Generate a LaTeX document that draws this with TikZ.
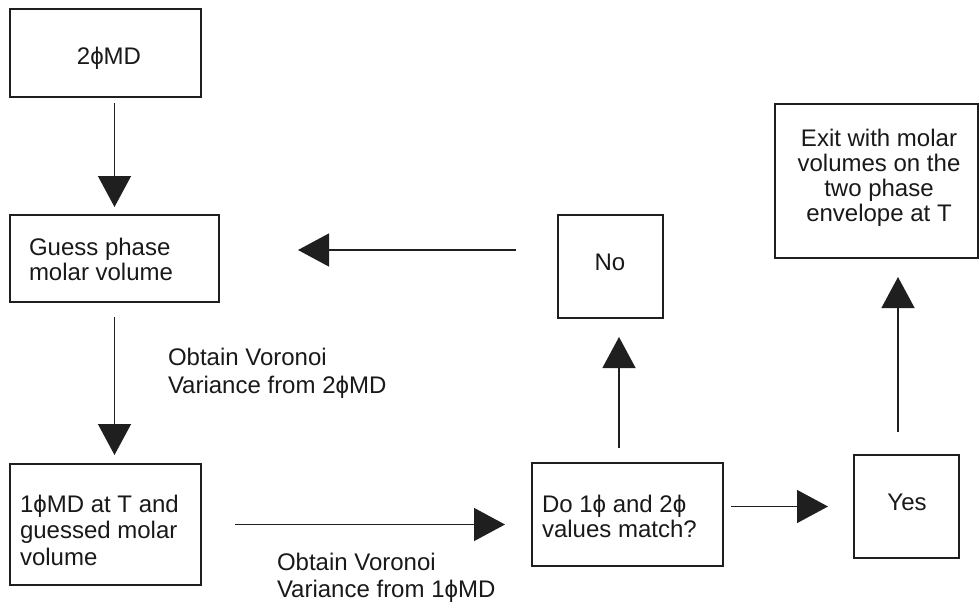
\documentclass[tikz,border=0pt]{standalone}
\usepackage{fontspec}
\setmainfont{Liberation Sans}
\usetikzlibrary{arrows.meta}
\newcommand\mylines[2]{\vtop{\baselineskip=#1\relax\lineskiplimit=-100pt #2}}
\newcommand\mc[1]{\hbox to 0pt{\hss #1\hss}}
\newcommand\ml[1]{\hbox{#1}}
\begin{document}
\begin{tikzpicture}[x=1pt,y=-1pt,
  box/.style={draw=black!88, line width=1.3pt, rectangle, inner sep=0pt, outer sep=0pt},
  txt/.style={inner sep=0pt, outer sep=0pt, font=\fontsize{24}{25}\selectfont, text=black!90},
  conn/.style={draw=black!88, line width=1.3pt, -{Triangle[length=31pt,width=33pt]}}]
\useasboundingbox (0,0) rectangle (980,603);
% boxes
\node[box, minimum width=191pt, minimum height=88pt]  (A) at (105.5,53) {};
\node[box, minimum width=209pt, minimum height=87pt]  (B) at (114.5,258.5) {};
\node[box, minimum width=191pt, minimum height=121pt] (C) at (105.5,524.5) {};
\node[box, minimum width=191pt, minimum height=103pt] (D) at (627.5,514.5) {};
\node[box, minimum width=105pt, minimum height=103pt] (E) at (610.5,266.5) {};
\node[box, minimum width=105pt, minimum height=103pt] (F) at (906.5,506.5) {};
\node[box, minimum width=203pt, minimum height=154pt] (G) at (876.5,181) {};
% texts
\node[txt, anchor=base] (At) at (109,64) {2ϕMD};
\node[txt, anchor=base west] (Bt) at (29,255) {\mylines{25pt}{\ml{Guess phase}\ml{molar volume}}};
\node[txt, anchor=base west] (Ct) at (20,512) {\mylines{26.5pt}{\ml{1ϕMD at T and}\ml{guessed molar}\ml{volume}}};
\node[txt, anchor=base west] (Dt) at (542,512) {\mylines{25pt}{\ml{Do 1ϕ and 2ϕ}\ml{values match?}}};
\node[txt, anchor=base] (Et) at (610,270) {No};
\node[txt, anchor=base] (Ft) at (907,510) {Yes};
\node[txt, anchor=base] (Gt) at (879,146) {\mylines{25pt}{\mc{Exit with molar}\mc{volumes on the}\mc{two phase}\mc{envelope at T}}};
\node[txt, anchor=base west] (L1) at (168,365) {\mylines{28pt}{\ml{Obtain Voronoi}\ml{Variance from 2ϕMD}}};
\node[txt, anchor=base west] (L2) at (277,570) {\mylines{27pt}{\ml{Obtain Voronoi}\ml{Variance from 1ϕMD}}};
% connectors
\draw[conn, shorten <=6pt, shorten >=8pt] (B.north |- A.south) -- (B.north);
\draw[conn, shorten <=15pt, shorten >=9pt] (B.south) -- (B.south |- C.north);
\draw[conn, shorten <=34pt, shorten >=27pt] (C.east) -- (C.east -| D.west);
\draw[conn, shorten <=15pt, shorten >=19pt] ([xshift=8.5pt]E.south |- D.north) -- ([xshift=8.5pt]E.south);
\draw[conn, shorten <=42pt, shorten >=79pt] ([yshift=16.5pt]E.west) -- ([yshift=16.5pt]E.west -| B.east);
\draw[conn, shorten <=8pt, shorten >=26pt] (F.west -| D.east) -- (F.west);
\draw[conn, shorten <=23pt, shorten >=19pt] ([xshift=-8.5pt]F.north) -- ([xshift=-8.5pt]F.north |- G.south);
\end{tikzpicture}
\end{document}
